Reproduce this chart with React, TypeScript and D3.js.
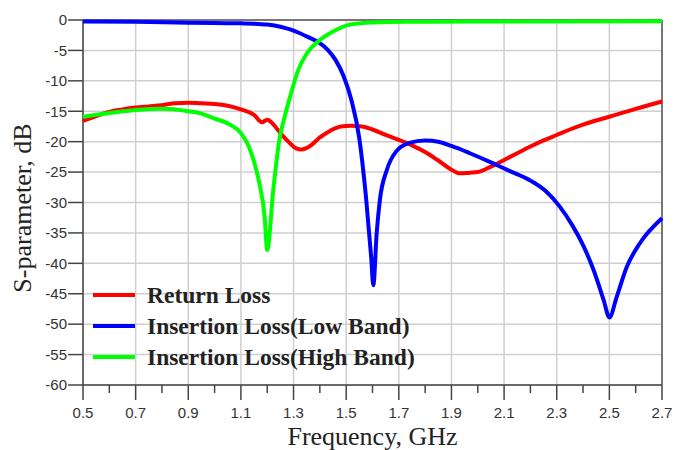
import React from 'react'
import * as d3 from 'd3'

// values (frequency in GHz, level in dB)
const returnLossFreq = [0.5, 0.55, 0.6, 0.65, 0.7, 0.75, 0.8, 0.85, 0.9, 0.95, 1.0, 1.05, 1.1, 1.15, 1.18, 1.2, 1.22, 1.25, 1.28, 1.31, 1.33, 1.36, 1.4, 1.44, 1.48, 1.52, 1.56, 1.6, 1.65, 1.7, 1.75, 1.8, 1.85, 1.9, 1.93, 1.97, 2.0, 2.05, 2.1, 2.15, 2.2, 2.25, 2.3, 2.35, 2.4, 2.5, 2.6, 2.7]
const returnLossDb = [-16.6, -15.8, -15.1, -14.7, -14.4, -14.2, -14.0, -13.7, -13.6, -13.7, -13.8, -14.1, -14.7, -15.6, -16.8, -16.4, -17.0, -18.6, -20.0, -21.1, -21.3, -20.8, -19.3, -18.2, -17.5, -17.4, -17.5, -18.0, -18.9, -19.7, -20.6, -21.7, -23.1, -24.6, -25.2, -25.1, -25.0, -24.1, -23.0, -21.9, -20.8, -19.8, -18.9, -18.0, -17.2, -15.9, -14.6, -13.4]

const lowBandFreq = [0.5, 0.7, 0.9, 1.0, 1.1, 1.15, 1.2, 1.25, 1.29, 1.32, 1.35, 1.4, 1.43, 1.46, 1.49, 1.52, 1.55, 1.575, 1.595, 1.603, 1.616, 1.628, 1.654, 1.69, 1.74, 1.8, 1.85, 1.9, 1.97, 2.05, 2.12, 2.2, 2.26, 2.31, 2.36, 2.4, 2.44, 2.478, 2.5, 2.528, 2.566, 2.616, 2.7]
const lowBandDb = [-0.25, -0.3, -0.45, -0.5, -0.55, -0.6, -0.75, -1.1, -1.6, -2.1, -2.7, -3.8, -4.9, -6.6, -9.2, -13.2, -19.5, -29.0, -39.0, -43.6, -35.0, -29.6, -24.7, -21.6, -20.2, -19.8, -20.0, -20.7, -21.9, -23.4, -24.8, -26.4, -28.2, -30.6, -33.8, -37.0, -41.1, -46.0, -48.9, -45.5, -40.6, -36.7, -32.6]

const highBandFreq = [0.5, 0.6, 0.7, 0.8, 0.9, 0.95, 1.0, 1.05, 1.1, 1.13, 1.15, 1.17, 1.19, 1.2, 1.223, 1.248, 1.261, 1.287, 1.318, 1.35, 1.4, 1.45, 1.51, 1.6, 1.73, 2.0, 2.7]
const highBandDb = [-15.9, -15.3, -14.8, -14.6, -15.0, -15.4, -16.2, -17.0, -18.6, -20.8, -23.3, -26.8, -32.3, -37.8, -27.9, -19.2, -16.8, -12.6, -8.2, -5.5, -3.3, -1.9, -0.8, -0.4, -0.3, -0.25, -0.2]

const xTicks = [0.5, 0.7, 0.9, 1.1, 1.3, 1.5, 1.7, 1.9, 2.1, 2.3, 2.5, 2.7]
const xMinorTicks = [0.6, 0.8, 1.0, 1.2, 1.4, 1.6, 1.8, 2.0, 2.2, 2.4, 2.6]
const yTicks = [0, -5, -10, -15, -20, -25, -30, -35, -40, -45, -50, -55, -60]

const seriesNames = ['Return Loss', 'Insertion Loss(Low Band)', 'Insertion Loss(High Band)']
const seriesColors = ['#ff0000', '#0000ff', '#00ff00']

const width = 675
const height = 450
const plot = { left: 83, right: 662, top: 20, bottom: 385 }

export default function App() {
  const x = d3.scaleLinear().domain([0.5, 2.7]).range([plot.left, plot.right])
  const y = d3.scaleLinear().domain([0, -60]).range([plot.top, plot.bottom])

  const line = d3
    .line<[number, number]>()
    .x((d) => x(d[0]))
    .y((d) => y(d[1]))
    .curve(d3.curveMonotoneX)

  const series = [
    returnLossFreq.map((f, i) => [f, returnLossDb[i]] as [number, number]),
    lowBandFreq.map((f, i) => [f, lowBandDb[i]] as [number, number]),
    highBandFreq.map((f, i) => [f, highBandDb[i]] as [number, number]),
  ]

  const tickFont = '"Liberation Sans", Arial, sans-serif'
  const titleFont = '"Liberation Serif", "Times New Roman", serif'

  return (
    <svg
      width={width}
      height={height}
      style={{ position: 'absolute', left: 0, top: 0, background: '#fff' }}
    >
      {/* grid */}
      {xTicks.map((t) => (
        <line key={'gx' + t} x1={x(t)} x2={x(t)} y1={plot.top} y2={plot.bottom} stroke="#cfcfcf" strokeWidth={1.5} />
      ))}
      {yTicks.map((t) => (
        <line key={'gy' + t} x1={plot.left} x2={plot.right} y1={y(t)} y2={y(t)} stroke="#cfcfcf" strokeWidth={1.5} />
      ))}

      {/* frame */}
      <line x1={plot.left} x2={plot.right} y1={plot.top} y2={plot.top} stroke="#777" strokeWidth={2} />
      <line x1={plot.right} x2={plot.right} y1={plot.top} y2={plot.bottom} stroke="#777" strokeWidth={2} />
      <line x1={plot.left} x2={plot.left} y1={plot.top} y2={plot.bottom} stroke="#444" strokeWidth={1.5} />
      <line x1={plot.left} x2={plot.right} y1={plot.bottom} y2={plot.bottom} stroke="#444" strokeWidth={1.5} />

      {/* y axis ticks and labels */}
      {yTicks.map((t) => (
        <g key={'yt' + t}>
          <line x1={plot.left - 15} x2={plot.left} y1={y(t)} y2={y(t)} stroke="#444" strokeWidth={1.5} />
          <text
            x={plot.left - 16}
            y={y(t)}
            dy="0.35em"
            textAnchor="end"
            fontFamily={tickFont}
            fontSize={15}
            fill="#333"
          >
            {t}
          </text>
        </g>
      ))}

      {/* x axis ticks and labels */}
      {xTicks.map((t) => (
        <g key={'xt' + t}>
          <line x1={x(t)} x2={x(t)} y1={plot.bottom} y2={plot.bottom + 15} stroke="#444" strokeWidth={1.5} />
          <text x={x(t)} y={plot.bottom + 33} textAnchor="middle" fontFamily={tickFont} fontSize={15} fill="#333">
            {t.toFixed(1)}
          </text>
        </g>
      ))}
      {xMinorTicks.map((t) => (
        <line key={'xm' + t} x1={x(t)} x2={x(t)} y1={plot.bottom} y2={plot.bottom + 8} stroke="#444" strokeWidth={1.5} />
      ))}

      {/* curves */}
      {series.map((s, i) => (
        <path key={'s' + i} d={line(s) ?? ''} fill="none" stroke={seriesColors[i]} strokeWidth={4} strokeLinejoin="round" />
      ))}

      {/* legend */}
      {seriesNames.map((name, i) => (
        <g key={'lg' + i} transform={`translate(93, ${295 + i * 31})`}>
          <line x1={0} x2={42} y1={0} y2={0} stroke={seriesColors[i]} strokeWidth={4} />
          <text x={54} y={0} dy="0.35em" fontFamily={titleFont} fontWeight="bold" fontSize={23.5} fill="#222">
            {name}
          </text>
        </g>
      ))}

      {/* axis titles */}
      <text
        x={(plot.left + plot.right) / 2}
        y={445}
        textAnchor="middle"
        fontFamily={titleFont}
        fontSize={26}
        fill="#222"
      >
        Frequency, GHz
      </text>
      <text
        transform={`translate(31, 208) rotate(-90)`}
        textAnchor="middle"
        fontFamily={titleFont}
        fontSize={26}
        fill="#222"
      >
        S-parameter, dB
      </text>
    </svg>
  )
}
